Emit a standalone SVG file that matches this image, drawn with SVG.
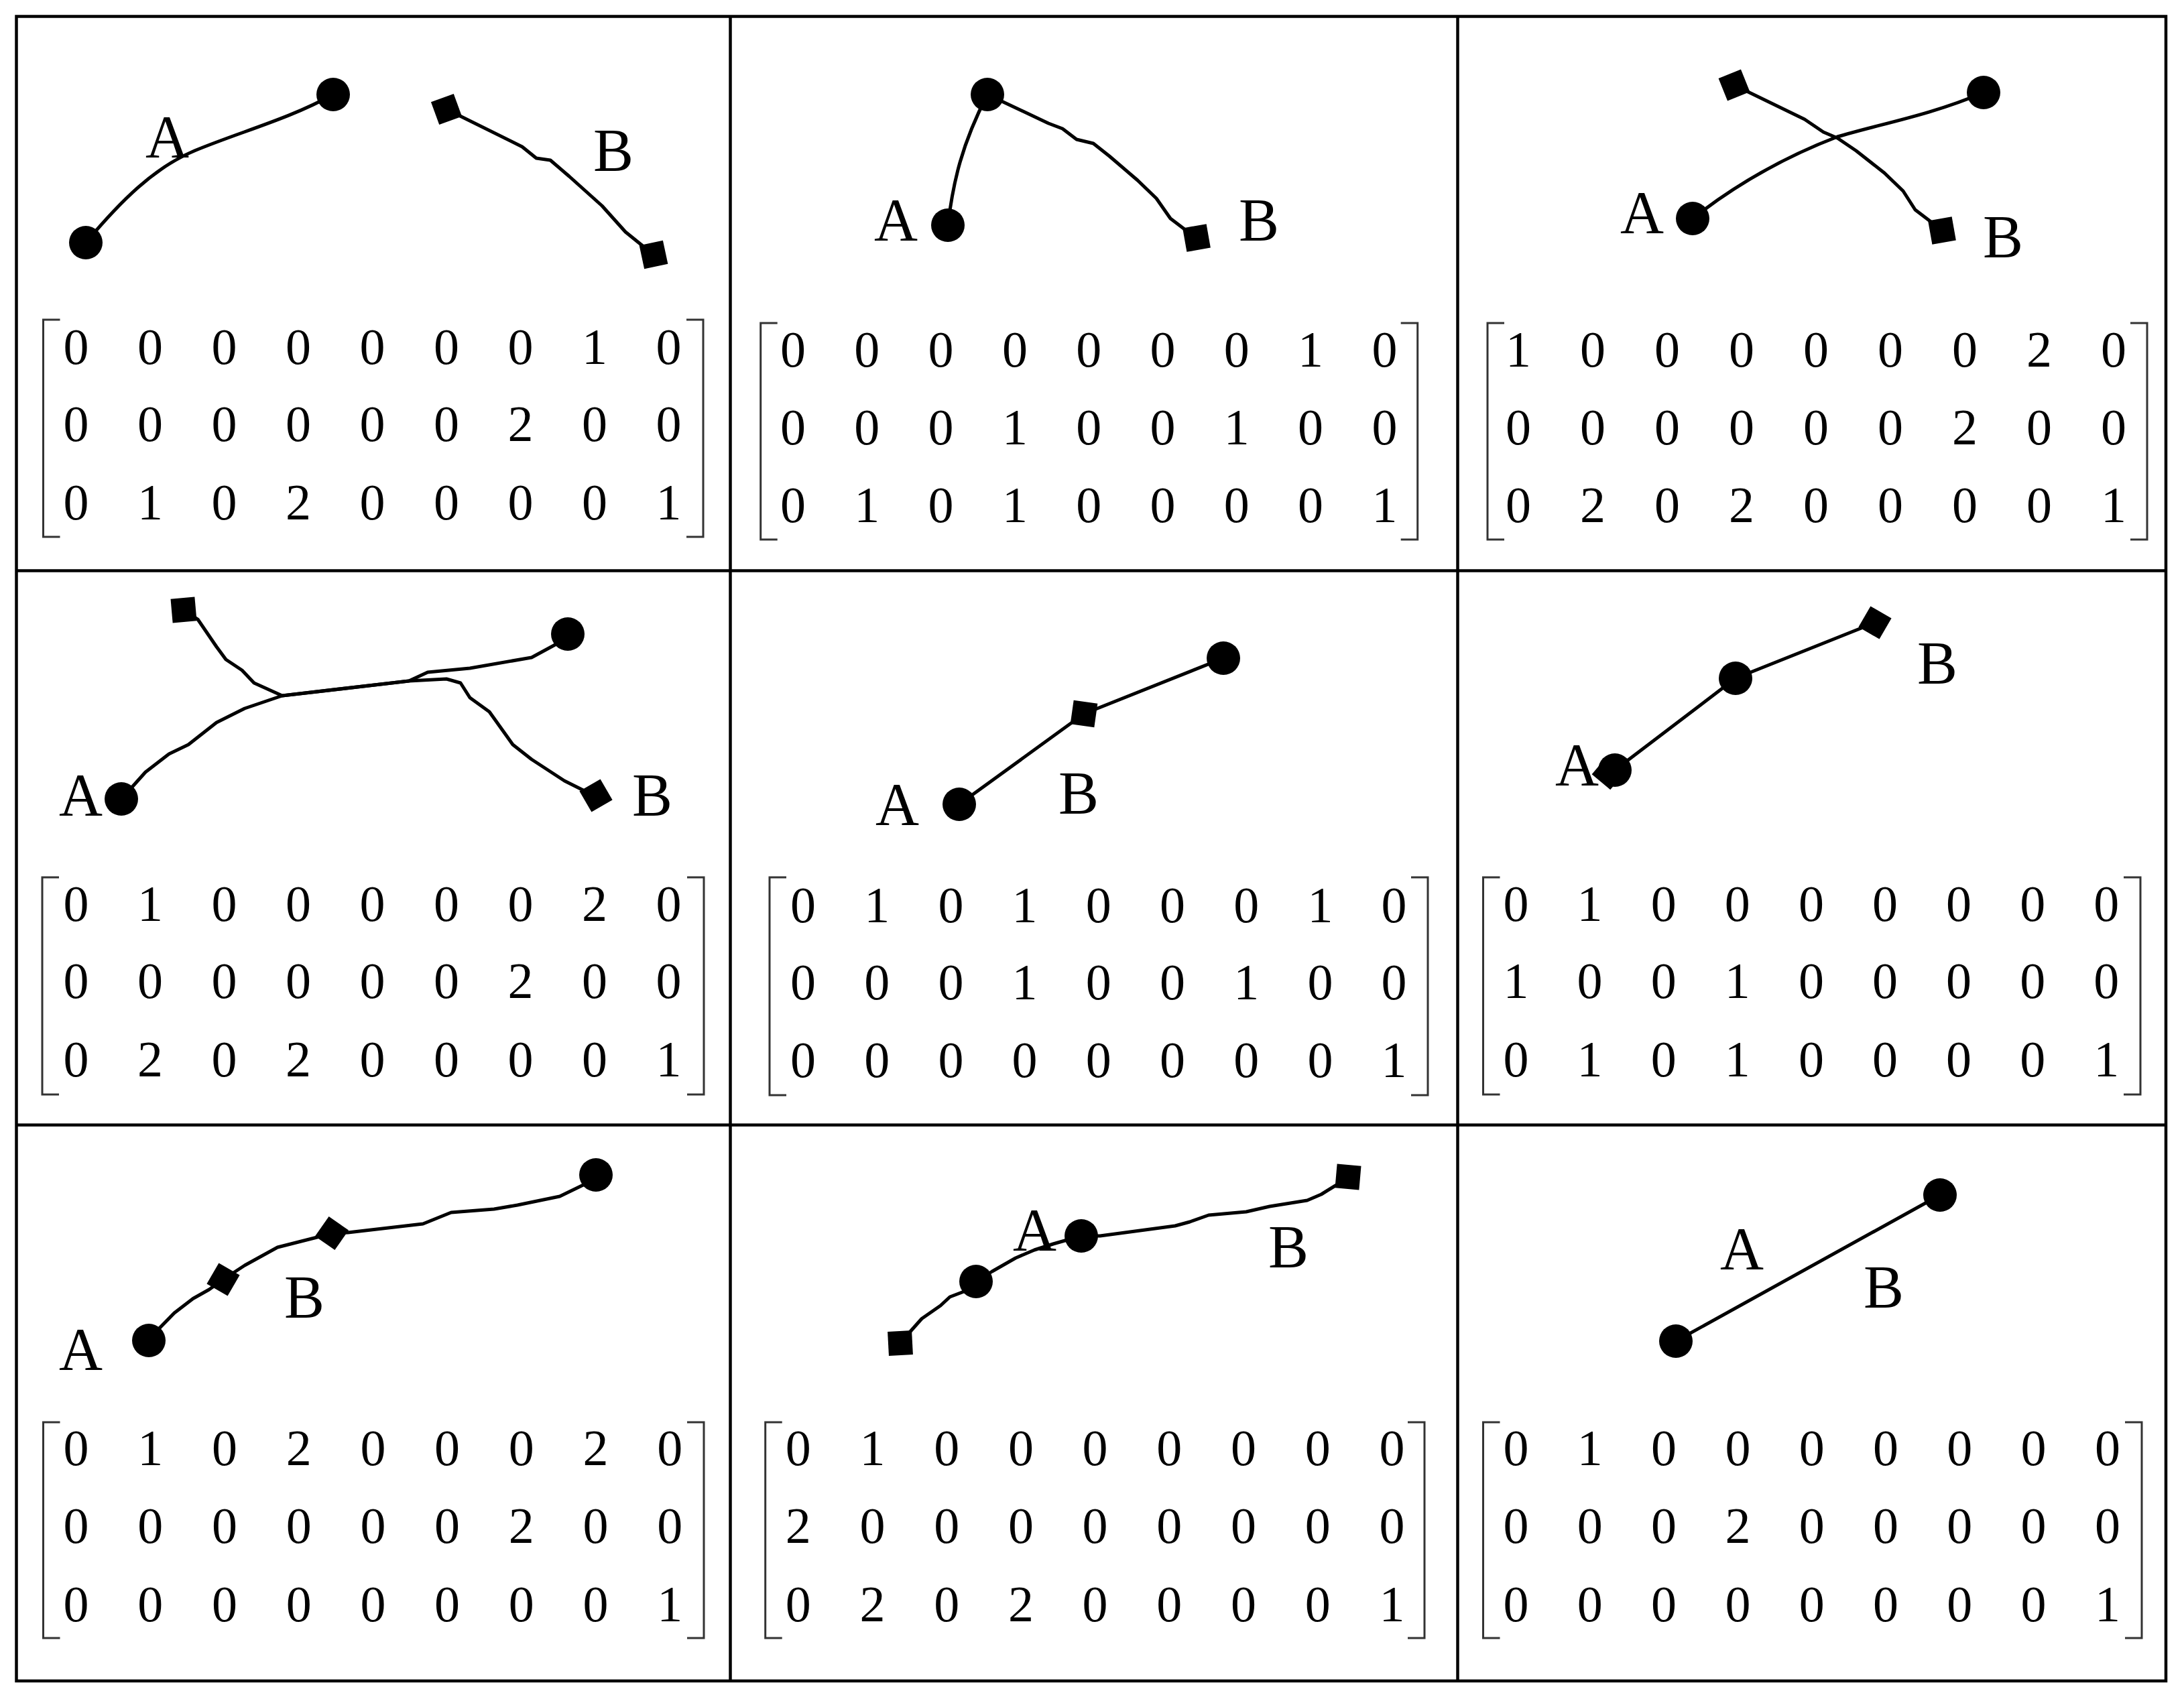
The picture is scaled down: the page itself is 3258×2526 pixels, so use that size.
<svg xmlns="http://www.w3.org/2000/svg" xmlns:xlink="http://www.w3.org/1999/xlink" width="3258" height="2526" viewBox="0 0 3258 2526">
<style>
.frame{fill:none;stroke:#000;stroke-width:4.5}
.curve{fill:none;stroke:#000;stroke-width:5;stroke-linejoin:round;stroke-linecap:round}
.br{fill:none;stroke:#333;stroke-width:3}
.lbl{font-family:"Liberation Serif","Times New Roman",serif;font-size:90px;fill:#000}
.num{font-family:"Liberation Serif","Times New Roman",serif;font-size:76px;fill:#000;text-anchor:middle}
.dot{fill:#000}
</style>
<defs>
<rect id="sq" x="-18" y="-18" width="36" height="36" fill="#000"/>
</defs>
<rect x="0" y="0" width="3258" height="2526" fill="#fff"/>
<g id="grid">
<rect class="frame" x="24.5" y="24.5" width="3206.5" height="2483.5"/>
<line class="frame" x1="1089.5" y1="24.5" x2="1089.5" y2="2508"/>
<line class="frame" x1="2174.5" y1="24.5" x2="2174.5" y2="2508"/>
<line class="frame" x1="24.5" y1="851.5" x2="3231" y2="851.5"/>
<line class="frame" x1="24.5" y1="1678.5" x2="3231" y2="1678.5"/>
</g>
<g id="connectors">
<path class="curve" d="M128,362 C180,300 230,250 290,225 C360,196 430,178 497,141"/>
<path class="curve" d="M666,163 L779,219 L800,236 L821,239 L849,263 L898,307 L933,346 L975,380"/>
<path class="curve" d="M1414,336 C1422,270 1435,215 1473,141"/>
<path class="curve" d="M1473,141 L1564,184 L1585,192 L1606,208 L1631,214 L1655,233 L1697,269 L1725,296 L1746,326 L1771,345 L1785,355"/>
<path class="curve" d="M2525,326 C2590,275 2660,235 2741,204 C2800,186 2880,172 2959,138"/>
<path class="curve" d="M2587,127 L2692,178 L2720,197 L2741,206 L2769,225 L2811,258 L2839,285 L2857,313 L2878,329 L2897,344"/>
<path class="curve" d="M181,1192 L200,1171 L217,1152 L252,1125 L281,1111 L323,1078 L365,1057 L421,1038 L610,1016 L638,1003 L701,997 L793,981 L828,962 L847,946"/>
<path class="curve" d="M274,910 L295,924 L323,965 L337,984 L361,1000 L379,1019 L421,1038 L610,1016 L666,1013 L687,1019 L701,1041 L730,1062 L765,1111 L793,1133 L842,1165 L870,1179 L889,1187"/>
<path class="curve" d="M1431,1200 L1617,1065 L1825,982"/>
<path class="curve" d="M2409,1149 L2589,1012 L2797,929"/>
<path class="curve" d="M222,2000 L238.5,1981 L260,1959 L288,1937.5 L312,1924 L333,1909 L365,1888 L414,1861 L477,1845 L495,1840 L519,1839 L631,1826 L673,1809 L737,1804 L772,1798 L835,1785 L870,1768 L889,1753"/>
<path class="curve" d="M1343,2004 L1359,1985.5 L1375,1967.5 L1403,1948 L1417,1935 L1438,1927 L1456,1912 L1480,1897 L1515,1877 L1543,1865 L1571,1856 L1613,1844 L1641,1844 L1753,1829 L1775,1823 L1803,1813 L1859,1808 L1894,1800 L1950,1791 L1971,1782 L1992,1769 L2011,1756"/>
<path class="curve" d="M2500,2001 L2894,1783"/>
</g>
<g id="panel1">
<g id="p1-n1"><circle class="dot" cx="128" cy="362" r="25"/></g>
<g id="p1-n2"><circle class="dot" cx="497" cy="141" r="25"/></g>
<g id="p1-n3"><use xlink:href="#sq" href="#sq" transform="translate(666,163) rotate(-20)"/></g>
<g id="p1-n4"><use xlink:href="#sq" href="#sq" transform="translate(975,380) rotate(-12)"/></g>
<text class="lbl" x="217" y="235">A</text>
<text class="lbl" x="885" y="255">B</text>
<path class="br" d="M89.5,477 H64.5 V801 H89.5"/>
<path class="br" d="M1024,477 H1049 V801 H1024"/>
<text class="num" x="113.6 224.1 334.6 445.1 555.6 666.1 776.6 887.1 997.6" y="543">000000010</text>
<text class="num" x="113.6 224.1 334.6 445.1 555.6 666.1 776.6 887.1 997.6" y="658">000000200</text>
<text class="num" x="113.6 224.1 334.6 445.1 555.6 666.1 776.6 887.1 997.6" y="775">010200001</text>
</g>
<g id="panel2">
<g id="p2-n1"><circle class="dot" cx="1414" cy="336" r="25"/></g>
<g id="p2-n2"><circle class="dot" cx="1473" cy="141" r="25"/></g>
<g id="p2-n3"><use xlink:href="#sq" href="#sq" transform="translate(1785,355) rotate(-10)"/></g>
<text class="lbl" x="1304" y="359">A</text>
<text class="lbl" x="1848" y="359">B</text>
<path class="br" d="M1159.7,482 H1134.7 V805 H1159.7"/>
<path class="br" d="M2089.7,482 H2114.7 V805 H2089.7"/>
<text class="num" x="1183 1293.3 1403.6 1513.9 1624.2 1734.5 1844.8 1955.1 2065.4" y="547">000000010</text>
<text class="num" x="1183 1293.3 1403.6 1513.9 1624.2 1734.5 1844.8 1955.1 2065.4" y="663">000100100</text>
<text class="num" x="1183 1293.3 1403.6 1513.9 1624.2 1734.5 1844.8 1955.1 2065.4" y="779">010100001</text>
</g>
<g id="panel3">
<g id="p3-n1"><circle class="dot" cx="2525" cy="326" r="25"/></g>
<g id="p3-n2"><circle class="dot" cx="2959" cy="138" r="25"/></g>
<g id="p3-n3"><use xlink:href="#sq" href="#sq" transform="translate(2587,127) rotate(-22)"/></g>
<g id="p3-n4"><use xlink:href="#sq" href="#sq" transform="translate(2897,344) rotate(-10)"/></g>
<text class="lbl" x="2417" y="348">A</text>
<text class="lbl" x="2958" y="384">B</text>
<path class="br" d="M2244,482 H2219 V805 H2244"/>
<path class="br" d="M3178,482 H3203 V805 H3178"/>
<text class="num" x="2265 2376 2487 2598 2709 2820 2931 3042 3153" y="547">100000020</text>
<text class="num" x="2265 2376 2487 2598 2709 2820 2931 3042 3153" y="663">000000200</text>
<text class="num" x="2265 2376 2487 2598 2709 2820 2931 3042 3153" y="779">020200001</text>
</g>
<g id="panel4">
<g id="p4-n1"><circle class="dot" cx="181" cy="1192" r="25"/></g>
<g id="p4-n2"><circle class="dot" cx="847" cy="946" r="25"/></g>
<g id="p4-n3"><use xlink:href="#sq" href="#sq" transform="translate(274,910) rotate(-5)"/></g>
<g id="p4-n4"><use xlink:href="#sq" href="#sq" transform="translate(889,1187) rotate(-30)"/></g>
<text class="lbl" x="88" y="1217">A</text>
<text class="lbl" x="943" y="1217">B</text>
<path class="br" d="M88,1309 H63 V1633 H88"/>
<path class="br" d="M1025,1309 H1050 V1633 H1025"/>
<text class="num" x="113.6 224.1 334.6 445.1 555.6 666.1 776.6 887.1 997.6" y="1374">010000020</text>
<text class="num" x="113.6 224.1 334.6 445.1 555.6 666.1 776.6 887.1 997.6" y="1489">000000200</text>
<text class="num" x="113.6 224.1 334.6 445.1 555.6 666.1 776.6 887.1 997.6" y="1606">020200001</text>
</g>
<g id="panel5">
<g id="p5-n1"><circle class="dot" cx="1431" cy="1200" r="25"/></g>
<g id="p5-n2"><use xlink:href="#sq" href="#sq" transform="translate(1617,1065) rotate(8)"/></g>
<g id="p5-n3"><circle class="dot" cx="1825" cy="982" r="25"/></g>
<text class="lbl" x="1306" y="1231">A</text>
<text class="lbl" x="1579" y="1214">B</text>
<path class="br" d="M1173,1309 H1148 V1634 H1173"/>
<path class="br" d="M2105,1309 H2130 V1634 H2105"/>
<text class="num" x="1198 1308.2 1418.4 1528.6 1638.8 1749 1859.2 1969.4 2079.6" y="1376">010100010</text>
<text class="num" x="1198 1308.2 1418.4 1528.6 1638.8 1749 1859.2 1969.4 2079.6" y="1491">000100100</text>
<text class="num" x="1198 1308.2 1418.4 1528.6 1638.8 1749 1859.2 1969.4 2079.6" y="1607">000000001</text>
</g>
<g id="panel6">
<g id="p6-n0"><use xlink:href="#sq" href="#sq" transform="translate(2400,1153) rotate(40)"/></g>
<g id="p6-n1"><circle class="dot" cx="2409" cy="1149" r="25"/></g>
<g id="p6-n2"><circle class="dot" cx="2589" cy="1012" r="25"/></g>
<g id="p6-n3"><use xlink:href="#sq" href="#sq" transform="translate(2797,929) rotate(30)"/></g>
<text class="lbl" x="2320" y="1172">A</text>
<text class="lbl" x="2860" y="1020">B</text>
<path class="br" d="M2237.5,1309 H2212.5 V1633 H2237.5"/>
<path class="br" d="M3168,1309 H3193 V1633 H3168"/>
<text class="num" x="2261.5 2371.6 2481.7 2591.8 2701.9 2812 2922.1 3032.2 3142.3" y="1374">010000000</text>
<text class="num" x="2261.5 2371.6 2481.7 2591.8 2701.9 2812 2922.1 3032.2 3142.3" y="1489">100100000</text>
<text class="num" x="2261.5 2371.6 2481.7 2591.8 2701.9 2812 2922.1 3032.2 3142.3" y="1606">010100001</text>
</g>
<g id="panel7">
<g id="p7-n1"><circle class="dot" cx="222" cy="2000" r="25"/></g>
<g id="p7-n2"><circle class="dot" cx="889" cy="1753" r="25"/></g>
<g id="p7-n3"><use xlink:href="#sq" href="#sq" transform="translate(333,1909) rotate(30)"/></g>
<g id="p7-n4"><use xlink:href="#sq" href="#sq" transform="translate(495,1840) rotate(35)"/></g>
<text class="lbl" x="88" y="2044">A</text>
<text class="lbl" x="424" y="1966">B</text>
<path class="br" d="M89.5,2122 H64.5 V2444 H89.5"/>
<path class="br" d="M1025,2122 H1050 V2444 H1025"/>
<text class="num" x="113.6 224.3 335 445.7 556.4 667.1 777.8 888.5 999.2" y="2186">010200020</text>
<text class="num" x="113.6 224.3 335 445.7 556.4 667.1 777.8 888.5 999.2" y="2302">000000200</text>
<text class="num" x="113.6 224.3 335 445.7 556.4 667.1 777.8 888.5 999.2" y="2419">000000001</text>
</g>
<g id="panel8">
<g id="p8-n1"><use xlink:href="#sq" href="#sq" transform="translate(1343,2004) rotate(-3)"/></g>
<g id="p8-n2"><circle class="dot" cx="1456" cy="1912" r="25"/></g>
<g id="p8-n3"><circle class="dot" cx="1613" cy="1844" r="25"/></g>
<g id="p8-n4"><use xlink:href="#sq" href="#sq" transform="translate(2011,1756) rotate(5)"/></g>
<text class="lbl" x="1511" y="1866">A</text>
<text class="lbl" x="1892" y="1891">B</text>
<path class="br" d="M1166.7,2122 H1141.7 V2444 H1166.7"/>
<path class="br" d="M2100,2122 H2125 V2444 H2100"/>
<text class="num" x="1190.8 1301.5 1412.2 1522.9 1633.6 1744.3 1855 1965.7 2076.4" y="2186">010000000</text>
<text class="num" x="1190.8 1301.5 1412.2 1522.9 1633.6 1744.3 1855 1965.7 2076.4" y="2302">200000000</text>
<text class="num" x="1190.8 1301.5 1412.2 1522.9 1633.6 1744.3 1855 1965.7 2076.4" y="2419">020200001</text>
</g>
<g id="panel9">
<g id="p9-n1"><circle class="dot" cx="2500" cy="2001" r="25"/></g>
<g id="p9-n2"><circle class="dot" cx="2894" cy="1783" r="25"/></g>
<text class="lbl" x="2566" y="1894">A</text>
<text class="lbl" x="2780" y="1951">B</text>
<path class="br" d="M2237.5,2122 H2212.5 V2444 H2237.5"/>
<path class="br" d="M3170,2122 H3195 V2444 H3170"/>
<text class="num" x="2261.5 2371.8 2482.1 2592.4 2702.7 2813 2923.3 3033.6 3143.9" y="2186">010000000</text>
<text class="num" x="2261.5 2371.8 2482.1 2592.4 2702.7 2813 2923.3 3033.6 3143.9" y="2302">000200000</text>
<text class="num" x="2261.5 2371.8 2482.1 2592.4 2702.7 2813 2923.3 3033.6 3143.9" y="2419">000000001</text>
</g>
</svg>
